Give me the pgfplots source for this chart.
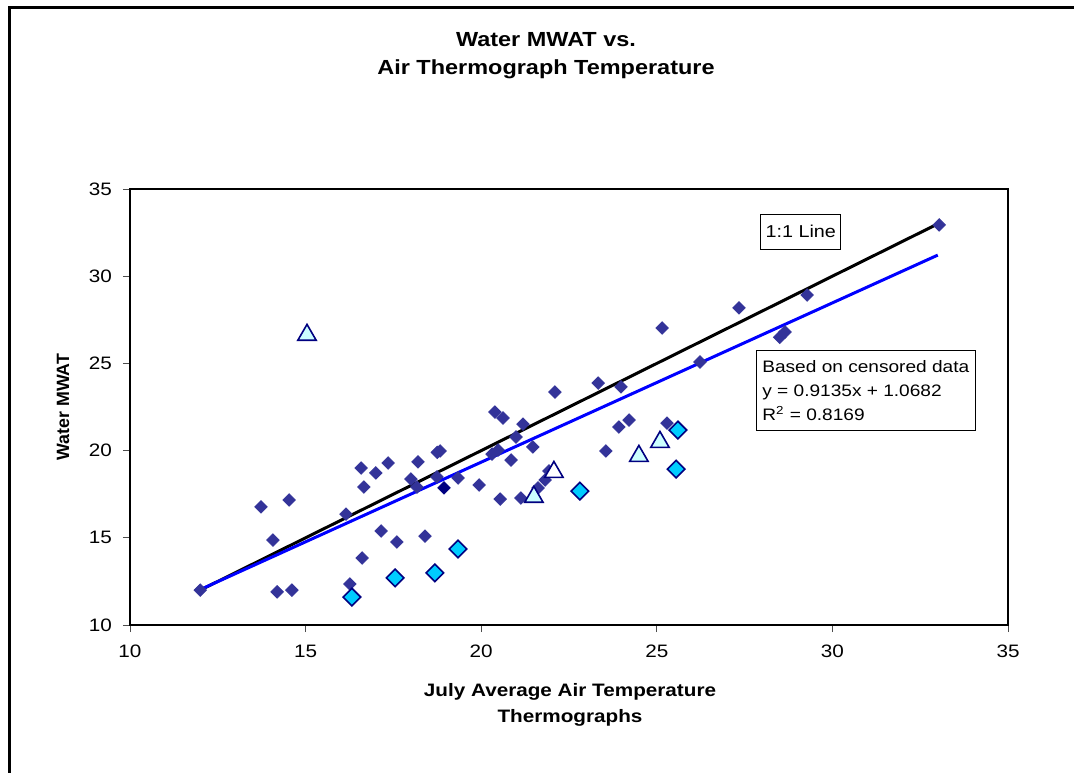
\documentclass[border=0pt]{standalone}
\usepackage{fontspec}
\setmainfont{Liberation Sans}[FakeStretch=1.15]
\newfontfamily\plainfont{Liberation Sans}
\usepackage{pgfplots}
\pgfplotsset{compat=1.18}
\definecolor{dkblue}{HTML}{333399}
\definecolor{navyc}{HTML}{000080}
\definecolor{cyanc}{HTML}{00CCFF}
\definecolor{ltcyan}{HTML}{CCFFFF}
\begin{document}
\begin{tikzpicture}
\useasboundingbox (-65pt,-73.5pt) rectangle (472pt,312.5pt);
\draw[line width=1.5pt] (-60pt,-80pt) -- (-60pt,308.5pt) -- (480pt,308.5pt);
\begin{axis}[
  scale only axis, width=439pt, height=218pt,
  xmin=10, xmax=35, ymin=10, ymax=35,
  xtick={10,15,...,35}, ytick={10,15,...,35},
  tick align=outside, xtick pos=bottom, ytick pos=left,
  major tick length=3.5pt,
  tick style={line width=0.5pt, black!70},
  axis line style={line width=1.4pt},
  /pgf/number format/assume math mode=true,
  ticklabel style={font=\fontsize{9}{11}\selectfont},
  xticklabel style={yshift=-3pt},
  yticklabel style={xshift=-2pt},
  clip=false,
]
\addplot[only marks, mark=square*, mark size=2.2pt, color=dkblue, mark options={rotate=45}] coordinates {
(12,12) (13.73,16.77) (14.53,17.17) (14.07,14.87) (14.19,11.9) (14.61,12.0)
(16.15,16.36) (16.58,19.0) (16.66,17.91) (17.0,18.72) (17.35,19.29) (18.2,19.35)
(18.0,18.37) (18.17,17.91) (18.83,19.98) (18.75,19.9) (18.74,18.49) (17.15,15.39)
(17.6,14.76) (18.4,15.1) (16.61,13.84) (16.26,12.35)
(22.1,23.36) (23.33,23.87) (23.98,23.65) (20.39,22.21) (20.62,21.87) (21.19,21.52)
(20.99,20.78) (20.48,20.03) (20.31,19.8) (21.47,20.21) (20.85,19.46) (19.34,18.43)
(19.94,18.03) (20.54,17.22) (21.13,17.28) (21.62,17.86) (21.82,18.31) (21.93,18.83)
(23.55,19.98) (23.92,21.35) (24.21,21.75) (25.29,21.58)
(33.04,32.94) (29.28,28.92) (27.34,28.18) (28.5,26.5) (28.65,26.8) (26.23,25.08) (25.15,27.03)
};
\addplot[only marks, mark=square*, mark size=2.2pt, color=navyc, mark options={rotate=45}] coordinates {(18.94,17.86)};
\addplot[black, line width=1.5pt] coordinates {(12,12) (33,33)};
\addplot[blue, line width=1.5pt] coordinates {(12,12.03) (33,31.21)};
\addplot[only marks, mark=square*, mark size=3.1pt, mark options={rotate=45, draw=navyc, fill=cyanc, line width=0.8pt}] coordinates {
(16.32,11.6) (17.55,12.7) (18.68,12.99) (19.34,14.36) (22.81,17.68) (25.55,18.94) (25.6,21.18)
};
\addplot[only marks, mark=triangle*, mark size=5.3pt, mark options={draw=navyc, fill=ltcyan, line width=0.8pt}] coordinates {
(15.04,26.63) (21.5,17.34) (24.49,19.69) (25.09,20.49)
};
\addplot[only marks, mark=triangle*, mark size=5.3pt, mark options={draw=navyc, fill=white, line width=0.8pt}] coordinates {
(22.07,18.77)
};
\node[draw=black, fill=white, line width=0.5pt, anchor=north west, inner xsep=2.5pt, inner ysep=5.5pt, font=\fontsize{8.6}{10}\selectfont] at (axis cs:27.94,33.57) {1:1 Line};
\node[draw=black, fill=white, line width=0.5pt, anchor=north west, inner xsep=3pt, inner ysep=5pt, align=left, font=\fontsize{8.3}{12}\selectfont] at (axis cs:27.82,25.77) {Based on censored data\\y = 0.9135x + 1.0682\\R\textsuperscript{2} = 0.8169};
\end{axis}
\node[align=center, font=\bfseries\fontsize{10.2}{14}\selectfont] at (208pt,284.5pt) {Water MWAT vs.\\Air Thermograph Temperature};
\node[align=center, font=\bfseries\fontsize{9}{13}\selectfont] at (220pt,-40pt) {July Average Air Temperature\\Thermographs};
\node[rotate=90, font=\plainfont\bfseries\fontsize{8.9}{11}\selectfont] at (-33.5pt,109pt) {Water MWAT};
\end{tikzpicture}
\end{document}
